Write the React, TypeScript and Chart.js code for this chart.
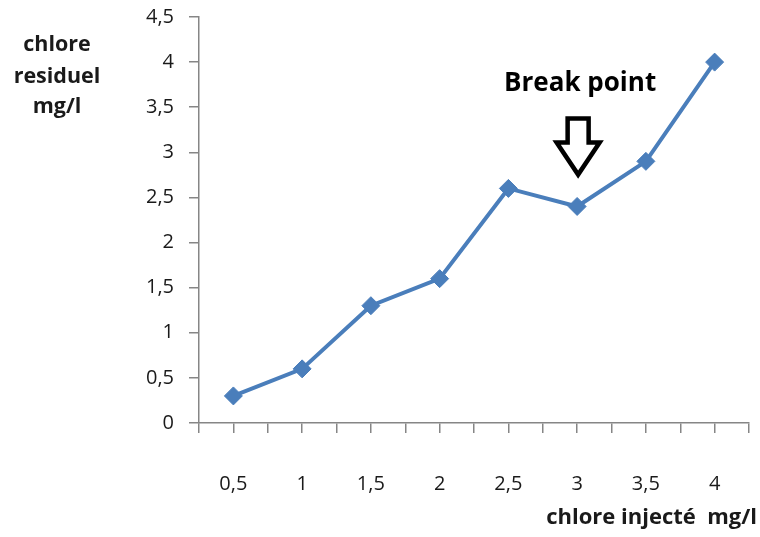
import React, { useEffect, useRef } from "react";
import { Chart, registerables } from "chart.js";

Chart.register(...registerables);

const injected = [0.5, 1, 1.5, 2, 2.5, 3, 3.5, 4];
const residual = [0.3, 0.6, 1.3, 1.6, 2.6, 2.4, 2.9, 4.0];
const yTitleLines = ["chlore", "residuel", "mg/l"];
const xTitle = "chlore injecté  mg/l";
const annotationText = "Break point";
const breakX = 3;
const arrowTipY = 2.72;
const textY = 3.76;

const FONT = "'Open Sans', sans-serif";
const fmt = (v: number) => String(v).replace(".", ",");

const overlay = {
  id: "overlay",
  afterDraw(chart: any) {
    const ctx = chart.ctx;
    const xs = chart.scales.x;
    const ys = chart.scales.y;
    ctx.save();
    ctx.fillStyle = "#1a1a1a";
    ctx.textAlign = "center";
    ctx.textBaseline = "middle";
    ctx.font = `bold 21.5px ${FONT}`;
    const ly = [45, 77, 107];
    yTitleLines.forEach((t, i) => ctx.fillText(t, 57, ly[i]));

    ctx.textAlign = "right";
    ctx.font = `bold 22px ${FONT}`;
    ctx.fillText(xTitle, 757, 518);

    const cx = xs.getPixelForValue(breakX);
    ctx.textAlign = "center";
    ctx.fillStyle = "#000";
    ctx.font = `bold 26px ${FONT}`;
    ctx.fillText(annotationText, cx + 3, ys.getPixelForValue(textY));

    const ty = ys.getPixelForValue(arrowTipY);
    const tx = cx + 1;
    ctx.beginPath();
    ctx.moveTo(tx - 10.5, ty - 59);
    ctx.lineTo(tx + 10.5, ty - 59);
    ctx.lineTo(tx + 10.5, ty - 35);
    ctx.lineTo(tx + 21.5, ty - 35);
    ctx.lineTo(tx, ty - 3);
    ctx.lineTo(tx - 21.5, ty - 35);
    ctx.lineTo(tx - 10.5, ty - 35);
    ctx.closePath();
    ctx.fillStyle = "#fff";
    ctx.fill();
    ctx.lineWidth = 4.5;
    ctx.lineJoin = "miter";
    ctx.strokeStyle = "#000";
    ctx.stroke();
    ctx.restore();
  },
};

export default function App() {
  const ref = useRef<HTMLCanvasElement>(null);
  useEffect(() => {
    if (!ref.current) return;
    const chart = new Chart(ref.current, {
      type: "line",
      data: {
        datasets: [
          {
            data: injected.map((x, i) => ({ x, y: residual[i] })),
            borderColor: "#4A7EBB",
            backgroundColor: "#4A7EBB",
            borderWidth: 4,
            pointStyle: "rectRot",
            pointRadius: 9,
            pointBorderWidth: 1,
            pointBackgroundColor: "#4A7EBB",
            pointBorderColor: "#4A7EBB",
            tension: 0,
          },
        ],
      },
      options: {
        animation: false,
        responsive: false,
        layout: { padding: { top: 17, right: 11, left: 0, bottom: 0 } },
        plugins: { legend: { display: false }, tooltip: { enabled: false } },
        scales: {
          x: {
            type: "linear",
            min: 0.25,
            max: 4.25,
            afterFit: (s: any) => {
              s.height = 114;
              s.paddingLeft = 0;
              s.paddingRight = 0;
            },
            ticks: {
              stepSize: 0.25,
              autoSkip: false,
              maxRotation: 0,
              padding: 39,
              color: "#1a1a1a",
              font: { family: FONT, size: 20 },
              callback: (v: any) => {
                const n = Number(v);
                if (n < 0.4 || n > 4.1) return "";
                return Math.abs(n * 2 - Math.round(n * 2)) < 1e-6 ? fmt(n) : "";
              },
            },
            grid: {
              drawOnChartArea: false,
              tickLength: 10,
              color: "#868686",
              lineWidth: 1.5,
            },
            border: { color: "#868686", width: 1.5 },
          },
          y: {
            min: 0,
            max: 4.5,
            afterFit: (s: any) => {
              s.width = 199;
              s.paddingTop = 0;
              s.paddingBottom = 0;
            },
            ticks: {
              stepSize: 0.5,
              padding: 15,
              color: "#1a1a1a",
              font: { family: FONT, size: 20 },
              callback: (v: any) => fmt(Number(v)),
            },
            grid: {
              drawOnChartArea: false,
              tickLength: 10,
              color: "#868686",
              lineWidth: 1.5,
            },
            border: { color: "#868686", width: 1.5 },
          },
        },
      },
      plugins: [overlay],
    });
    return () => chart.destroy();
  }, []);
  return (
    <div style={{ position: "absolute", left: 0, top: 0, width: 760, height: 537, background: "#fff" }}>
      <canvas ref={ref} width={760} height={537} style={{ display: "block" }} />
    </div>
  );
}
